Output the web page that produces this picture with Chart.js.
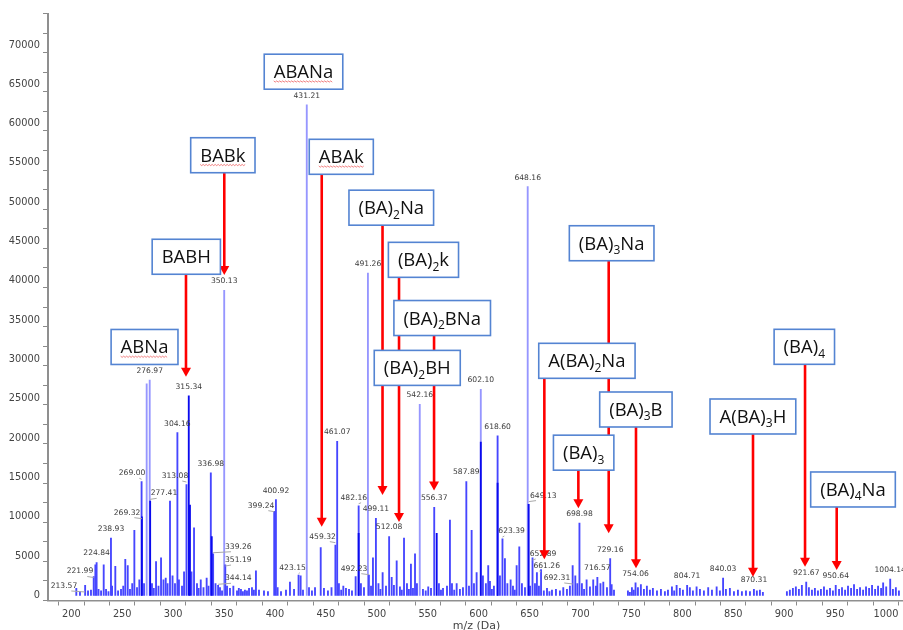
<!DOCTYPE html>
<html>
<head>
<meta charset="utf-8">
<script src="https://cdn.jsdelivr.net/npm/chart.js@4.4.1/dist/chart.umd.min.js"></script>
<style>
  html, body { margin: 0; padding: 0; background: #ffffff; }
  #wrap { position: relative; width: 903px; height: 630px; }
</style>
</head>
<body>
<div id="wrap"><canvas id="spectrum" width="903" height="630"></canvas></div>
<script>
// ---------- MALDI spectrum: centroided peaks (m/z, intensity in counts) ----------
const peakMz = [
  204.9, 208.5, 213.57, 216.4, 219.3, 221.99, 223.6, 224.84, 226.7, 229.2,
  231.8, 234.1, 236.5, 238.93, 240.0, 243.2, 245.9, 248.8, 251.0, 253.0,
  255.4, 257.6, 259.8, 261.9, 264.5, 266.8, 269.00, 271.4, 274.0, 276.97,
  279.2, 281.0, 283.2, 285.6, 288.1, 290.5, 292.7, 294.5, 296.9, 299.4,
  301.8, 304.16, 305.7, 308.7, 310.7, 313.08, 318.0, 320.5, 323.4, 325.0,
  327.1, 329.8, 332.9, 334.7, 336.98, 339.26, 341.6, 344.14, 346.0, 348.0,
  350.13, 351.19, 352.9, 355.8, 359.1, 362.7, 364.5, 366.6, 368.5, 370.5,
  372.5, 374.5, 377.4, 379.3, 381.3, 384.3, 389.2, 393.1, 399.24, 400.92,
  402.6, 405.9, 410.8, 414.7, 418.7, 423.15, 425.2, 427.5, 431.21, 433.4,
  436.3, 439.3, 444.9, 448.1, 452.0, 455.5, 459.32, 461.07, 462.8, 465.0,
  467.1, 469.7, 472.7, 475.6, 479.2, 482.16, 484.4, 487.4, 491.26, 492.23,
  494.3, 496.2, 499.11, 501.6, 503.5, 505.7, 509.0, 512.08, 514.6, 516.8,
  519.5, 522.7, 524.5, 526.7, 529.6, 531.5, 533.5, 535.5, 537.5, 539.4,
  542.16, 545.3, 548.0, 550.5, 553.2, 556.37, 561.0, 563.0, 565.0, 568.9,
  571.8, 573.8, 576.0, 578.4, 581.6, 584.6, 587.89, 590.5, 593.1, 595.4,
  598.0, 602.10, 604.2, 607.1, 609.4, 611.1, 613.0, 615.0, 618.60, 620.9,
  623.39, 625.8, 628.2, 631.4, 633.7, 635.5, 637.3, 639.9, 642.5, 645.5,
  648.16, 650.5, 652.89, 655.3, 657.2, 659.2, 661.26, 664.0, 667.1, 669.5,
  672.0, 675.9, 679.8, 683.1, 686.7, 689.6, 692.31, 694.9, 696.9, 698.98,
  701.4, 703.5, 706.0, 709.3, 712.5, 715.2, 716.57, 719.6, 722.4, 726.0,
  729.16, 730.6, 732.9, 746.6, 748.5, 750.5, 752.3, 754.06, 756.4, 759.3,
  762.3, 765.2, 768.2, 771.1, 775.1, 779.0, 782.9, 785.9, 789.8, 792.0,
  794.4, 797.6, 800.6, 804.71, 807.4, 810.4, 814.0, 817.3, 821.2, 825.4,
  829.1, 833.7, 836.9, 840.03, 842.8, 846.7, 850.7, 854.6, 858.5, 862.5,
  866.4, 870.31, 873.2, 876.2, 879.1, 902.7, 905.6, 908.6, 911.5, 914.5,
  917.4, 921.67, 924.3, 927.3, 930.2, 933.2, 936.1, 939.1, 942.0, 945.0,
  947.9, 950.64, 953.9, 956.8, 959.8, 962.7, 965.7, 968.6, 971.6, 974.5,
  977.5, 980.4, 983.4, 986.3, 989.3, 992.2, 995.2, 997.2, 1000.2, 1004.14,
  1006.8, 1009.7, 1012.7
];
const peakIntensity = [
  900, 500, 1300, 600, 700, 2400, 3900, 4200, 800, 600,
  3900, 800, 500, 7300, 1200, 3700, 600, 800, 1200, 4600,
  3800, 800, 1500, 8300, 1000, 2000, 14500, 1500, 26900, 27400,
  1500, 900, 4300, 1200, 4800, 2000, 2200, 1500, 12000, 2500,
  1500, 20700, 2000, 1200, 3000, 14100, 3000, 8600, 1500, 900,
  2000, 1000, 2200, 1200, 15600, 5300, 1500, 1300, 1000, 600,
  38800, 3900, 1200, 900, 1200, 600, 900, 800, 500, 700,
  600, 900, 1000, 700, 3150, 700, 600, 500, 10700, 12200,
  1000, 500, 700, 1700, 800, 2600, 2500, 700, 62400, 1000,
  600, 1000, 6100, 900, 600, 1000, 6400, 19600, 1500, 700,
  1200, 900, 800, 600, 2400, 11400, 1500, 1000, 41000, 2600,
  1200, 4800, 9800, 1500, 800, 2900, 1200, 7500, 2300, 1300,
  4400, 1100, 700, 7300, 1500, 800, 4000, 900, 5300, 1500,
  24300, 800, 600, 1100, 900, 11200, 1500, 700, 900, 1200,
  9600, 1500, 700, 1500, 800, 1000, 14500, 1200, 8300, 1500,
  2900, 26200, 2500, 1500, 3800, 1800, 800, 1200, 20300, 2500,
  7200, 4700, 1500, 2000, 1200, 700, 3800, 6200, 1500, 1000,
  52000, 1200, 4800, 1500, 2900, 1200, 3300, 600, 900, 500,
  700, 800, 600, 1000, 800, 1200, 3800, 2500, 1500, 9200,
  1500, 800, 2000, 1100, 2000, 1200, 2300, 1500, 1700, 1000,
  4700, 1400, 700, 600, 400, 1000, 700, 1600, 1000, 1400,
  800, 1200, 700, 900, 600, 800, 500, 700, 1100, 600,
  1300, 900, 700, 1300, 1000, 600, 1100, 800, 600, 1000,
  700, 1100, 600, 2200, 800, 900, 500, 700, 500, 600,
  500, 800, 600, 700, 400, 500, 700, 900, 1100, 800,
  1300, 1700, 1000, 700, 900, 600, 800, 1100, 700, 900,
  600, 1300, 800, 1000, 700, 1200, 900, 1400, 800, 1000,
  700, 1100, 900, 1300, 800, 1200, 900, 1600, 1100, 2100,
  800, 1000, 600
];

// overlapping isotope components inside the main clusters
const coreMz        = [269.32, 277.41, 315.34, 316.5, 337.9, 482.16, 558.8, 602.10, 618.60, 649.13];
const coreIntensity = [10000, 12000, 25400, 11500, 7500, 7900, 7900, 19500, 14300, 11600];

// peaks that carry an m/z readout
const labelledMz = [
  '213.57', '221.99', '224.84', '238.93', '269.32', '269.00', '276.97', '277.41',
  '304.16', '313.08', '315.34', '336.98', '339.26', '351.19', '344.14', '350.13',
  '399.24', '400.92', '423.15', '431.21', '459.32', '461.07', '482.16', '491.26',
  '492.23', '499.11', '512.08', '542.16', '556.37', '587.89', '602.10', '618.60',
  '623.39', '648.16', '649.13', '652.89', '661.26', '692.31', '698.98', '716.57',
  '729.16', '754.06', '804.71', '840.03', '870.31', '921.67', '950.64', '1004.14'
];

// ion assignments ("_" puts the next digit in subscript)
const ionNames = [
  'ABANa', 'BABk', 'ABAk', '(BA)_2Na', 'BABH', '(BA)_2k', '(BA)_2BNa', 'ABNa',
  '(BA)_2BH', 'A(BA)_2Na', '(BA)_3Na', '(BA)_3B', '(BA)_3', 'A(BA)_3H', '(BA)_4', '(BA)_4Na'
];

// axis tick labels
const xTickLabels = [200, 250, 300, 350, 400, 450, 500, 550, 600, 650, 700, 750, 800, 850, 900, 950, 1000];
const yTickLabels = [0, 5000, 10000, 15000, 20000, 25000, 30000, 35000, 40000, 45000, 50000, 55000, 60000, 65000, 70000];

// ---------- layout of the annotations (data coordinates: [m/z, intensity]) ----------
// readouts that sit beside their peak, joined by a leader line
const leaderLabelAt = {
  '213.57': [192.8, 1208], '221.99': [208.5, 3050], '269.32': [254.7, 10530],
  '269.00': [259.6, 15540], '277.41': [291.0, 12990], '313.08': [301.8, 15190],
  '339.26': [364.0, 6200], '351.19': [364.0, 4510], '344.14': [364.0, 2190],
  '399.24': [386.3, 11420], '423.15': [417.2, 3530], '459.32': [446.7, 7480],
  '482.16': [477.4, 12430], '492.23': [477.6, 3410], '623.39': [632.4, 8200],
  '649.13': [663.5, 12700], '652.89': [663.2, 5280], '661.26': [666.8, 3750],
  '692.31': [676.9, 2230]
};
// callout box centre and the arrow tip for each ion name
const ionCallouts = [
  { box: [428.0, 66600], arrow: null },
  { box: [348.8, 55980], arrow: [350.2, 40750] },
  { box: [465.1, 55780], arrow: [445.9, 8750] },
  { box: [514.2, 49310], arrow: [505.6, 12780] },
  { box: [312.9, 43070], arrow: [312.6, 27820] },
  { box: [545.8, 42680], arrow: [521.8, 9350] },
  { box: [564.2, 35280], arrow: [556.2, 13360] },
  { box: [271.9, 31600], arrow: null },
  { box: [539.7, 28940], arrow: null },
  { box: [706.3, 29840], arrow: [664.5, 4600] },
  { box: [730.6, 44790], arrow: [727.7, 7910] },
  { box: [754.4, 23650], arrow: [754.5, 3460] },
  { box: [703.1, 18160], arrow: [697.9, 11090] },
  { box: [869.3, 22760], arrow: [869.4, 2390] },
  { box: [919.8, 31620], arrow: [920.5, 3660] },
  { box: [967.6, 13480], arrow: [951.6, 3240] }
];
const squiggled = ['ABANa', 'BABk', 'ABAk', 'ABNa'];

// ---------- drawing helpers ----------
const LABEL_FONT = '7.6px "DejaVu Sans"';
const ION_FONT = '18.5px "Open Sans"';
const SUB_FONT = '12px "Open Sans"';
const TICK_FONT_CSS = '9.8px "DejaVu Sans"';

function ionSegments(name) {
  const segs = [];
  let buf = '';
  for (let i = 0; i < name.length; i++) {
    if (name[i] === '_') {
      if (buf) segs.push({ t: buf, sub: false });
      buf = '';
      segs.push({ t: name[i + 1], sub: true });
      i++;
    } else {
      buf += name[i];
    }
  }
  if (buf) segs.push({ t: buf, sub: false });
  return segs;
}

function findPeak(label) {
  const v = parseFloat(label);
  let i = peakMz.findIndex(m => Math.abs(m - v) < 1e-6);
  if (i >= 0) return { mz: peakMz[i], y: peakIntensity[i] };
  i = coreMz.findIndex(m => Math.abs(m - v) < 1e-6);
  if (i >= 0) return { mz: coreMz[i], y: coreIntensity[i] };
  return null;
}

const annotationPlugin = {
  id: 'spectrumAnnotations',
  afterDatasetsDraw(chart) {
    const { ctx } = chart;
    const xs = chart.scales.x, ys = chart.scales.y;
    ctx.save();

    // m/z readouts
    ctx.font = LABEL_FONT;
    ctx.textAlign = 'center';
    ctx.textBaseline = 'middle';
    labelledMz.forEach(lbl => {
      const p = findPeak(lbl);
      if (!p) return;
      const px = xs.getPixelForValue(p.mz);
      const pTop = ys.getPixelForValue(p.y);
      const at = leaderLabelAt[lbl];
      let tx, ty;
      if (at) {
        tx = xs.getPixelForValue(at[0]);
        ty = ys.getPixelForValue(at[1]);
        const w = ctx.measureText(lbl).width;
        const nearX = px > tx ? tx + w / 2 - 6 : tx - w / 2 + 6;
        ctx.strokeStyle = '#a8a8a8';
        ctx.lineWidth = 1;
        ctx.beginPath();
        ctx.moveTo(nearX, ty + 5);
        ctx.lineTo(px, ty + 6);
        ctx.stroke();
      } else {
        tx = px;
        ty = pTop - 9;
      }
      ctx.fillStyle = '#3a3a3a';
      ctx.fillText(lbl, tx, ty);
    });

    // red arrows
    const boxes = ionNames.map((name, i) => {
      const c = ionCallouts[i];
      const segs = ionSegments(name);
      let w = 0;
      segs.forEach(s => { ctx.font = s.sub ? SUB_FONT : ION_FONT; s.w = ctx.measureText(s.t).width; w += s.w; });
      const cx = xs.getPixelForValue(c.box[0]);
      const cy = ys.getPixelForValue(c.box[1]);
      return { name, segs, textW: w, cx, cy, bw: w + 19, bh: 35, arrow: c.arrow };
    });

    ctx.strokeStyle = '#ff0000';
    ctx.fillStyle = '#ff0000';
    boxes.forEach(b => {
      if (!b.arrow) return;
      const ax = xs.getPixelForValue(b.arrow[0]);
      const tip = ys.getPixelForValue(b.arrow[1]);
      const startY = b.cy + b.bh / 2;
      ctx.lineWidth = 2.6;
      ctx.beginPath();
      ctx.moveTo(ax, startY);
      ctx.lineTo(ax, tip - 8);
      ctx.stroke();
      ctx.beginPath();
      ctx.moveTo(ax - 5, tip - 9);
      ctx.lineTo(ax + 5, tip - 9);
      ctx.lineTo(ax, tip);
      ctx.closePath();
      ctx.fill();
    });

    // callout boxes with ion names
    boxes.forEach(b => {
      const left = b.cx - b.bw / 2, top = b.cy - b.bh / 2;
      ctx.fillStyle = '#ffffff';
      ctx.fillRect(left, top, b.bw, b.bh);
      ctx.strokeStyle = '#5484d2';
      ctx.lineWidth = 1.6;
      ctx.strokeRect(left, top, b.bw, b.bh);
      let x = b.cx - b.textW / 2;
      const base = b.cy + 6.5;
      ctx.textAlign = 'left';
      ctx.textBaseline = 'alphabetic';
      ctx.fillStyle = '#111111';
      b.segs.forEach(s => {
        ctx.font = s.sub ? SUB_FONT : ION_FONT;
        ctx.fillText(s.t, x, s.sub ? base + 4.5 : base);
        x += s.w;
      });
      if (squiggled.includes(b.name)) {
        const x0 = b.cx - b.textW / 2, x1 = b.cx + b.textW / 2;
        ctx.strokeStyle = 'rgba(235,60,60,0.8)';
        ctx.lineWidth = 0.8;
        ctx.beginPath();
        for (let xx = x0, k = 0; xx <= x1; xx += 1.5, k++) {
          const yy = base + 3 + (k % 2 ? 0.9 : -0.3);
          if (k === 0) ctx.moveTo(xx, yy); else ctx.lineTo(xx, yy);
        }
        ctx.stroke();
      }
    });

    ctx.restore();
  },
  afterDraw(chart) {
    const { ctx, chartArea } = chart;
    const ys = chart.scales.y;
    ctx.save();
    // intensity tick labels, right-aligned against the tick marks
    ctx.font = TICK_FONT_CSS;
    ctx.fillStyle = '#444444';
    ctx.textAlign = 'right';
    ctx.textBaseline = 'middle';
    yTickLabels.forEach(v => {
      ctx.fillText(String(v), chartArea.left - 8, ys.getPixelForValue(v));
    });
    // axis title
    ctx.font = '11px "DejaVu Sans"';
    ctx.textAlign = 'center';
    ctx.fillText('m/z (Da)', (chartArea.left + chartArea.right) / 2 + 1, 626);
    ctx.restore();
  }
};

const TICK_FONT = { family: 'DejaVu Sans', size: 9.8 };

new Chart(document.getElementById('spectrum'), {
  type: 'bar',
  data: {
    datasets: [
      {
        label: 'isotope cores',
        data: coreMz.map((m, i) => ({ x: m, y: coreIntensity[i] })),
        backgroundColor: '#0a0aee',
        order: 0
      },
      {
        label: 'spectrum',
        data: peakMz.map((m, i) => ({ x: m, y: peakIntensity[i] })),
        backgroundColor: c => (c.raw && c.raw.y >= 24000) ? '#9696ff' : '#4646ff',
        order: 1
      }
    ]
  },
  options: {
    responsive: false,
    animation: false,
    devicePixelRatio: 1,
    layout: { padding: { top: 13.5, right: 0, bottom: 0, left: 0 } },
    datasets: { bar: { barThickness: 1.2, grouped: false, borderWidth: 0 } },
    plugins: { legend: { display: false }, tooltip: { enabled: false } },
    scales: {
      x: {
        type: 'linear',
        min: 177.1,
        max: 1016.7,
        offset: false,
        afterFit: s => { s.height = 29.5; },
        grid: { drawOnChartArea: false, drawTicks: true, tickLength: 5, tickColor: '#8a8a8a', tickWidth: 1 },
        border: { display: true, color: '#8f8f8f', width: 1.5 },
        ticks: {
          stepSize: 25, includeBounds: false, autoSkip: false, maxRotation: 0, minRotation: 0,
          padding: 3, color: '#444444', font: TICK_FONT,
          callback: v => xTickLabels.includes(v) ? String(v) : ''
        }
      },
      y: {
        type: 'linear',
        min: -636,
        max: 74000,
        afterFit: s => { s.width = 48; },
        grid: { drawOnChartArea: false, drawTicks: true, tickLength: 5, tickColor: '#8a8a8a', tickWidth: 1 },
        border: { display: true, color: '#8f8f8f', width: 2 },
        ticks: {
          stepSize: 2500, includeBounds: false, autoSkip: false,
          padding: 3, color: '#444444', font: TICK_FONT,
          callback: () => ''
        }
      }
    }
  },
  plugins: [annotationPlugin]
});
</script>
</body>
</html>
